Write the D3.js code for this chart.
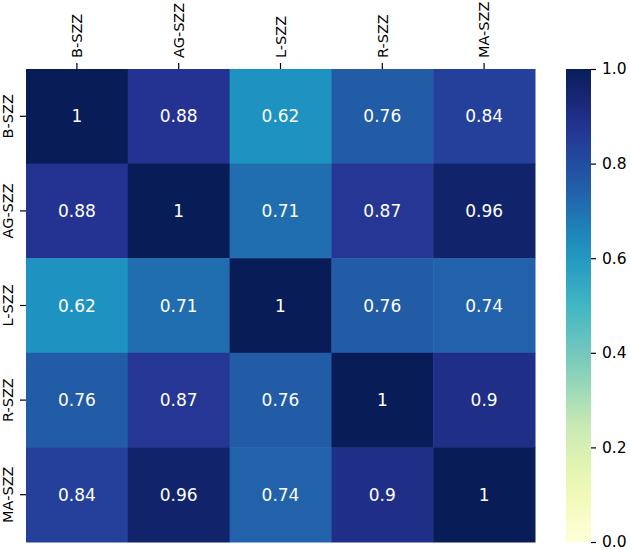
<!DOCTYPE html>
<html lang="en">
<head>
<meta charset="UTF-8">
<title>Heatmap</title>
<script src="https://d3js.org/d3.v7.min.js"></script>
<style>
  body { margin: 0; background: #fff; }
  text { font-family: "DejaVu Sans", sans-serif; }
</style>
</head>
<body>
<script>
var labels = ['B-SZZ', 'AG-SZZ', 'L-SZZ', 'R-SZZ', 'MA-SZZ'];
var matrix = [
  [1, 0.88, 0.62, 0.76, 0.84],
  [0.88, 1, 0.71, 0.87, 0.96],
  [0.62, 0.71, 1, 0.76, 0.74],
  [0.76, 0.87, 0.76, 1, 0.9],
  [0.84, 0.96, 0.74, 0.9, 1]
];
var cbarTicks = [0, 0.2, 0.4, 0.6, 0.8, 1.0];

var width = 630, height = 550;
var mLeft = 26, mTop = 69, mRight = 535, mBottom = 542;
var cbLeft = 566, cbRight = 591;

var svg = d3.select('body').append('svg')
  .attr('width', width)
  .attr('height', height);

var pal = d3.schemeYlGnBu[9];
var color = d3.scaleLinear()
  .domain(d3.range(9).map(function (i) { return i / 8; }))
  .range(pal)
  .interpolate(d3.interpolateRgb);

var x = d3.scaleBand().domain(labels).range([mLeft, mRight]);
var y = d3.scaleBand().domain(labels).range([mTop, mBottom]);

var cells = [];
matrix.forEach(function (row, i) {
  row.forEach(function (v, j) {
    cells.push({ r: labels[i], c: labels[j], v: v });
  });
});

svg.selectAll('rect.cell')
  .data(cells)
  .enter()
  .append('rect')
  .attr('class', 'cell')
  .attr('x', function (d) { return x(d.c); })
  .attr('y', function (d) { return y(d.r); })
  .attr('width', x.bandwidth() + 0.5)
  .attr('height', y.bandwidth() + 0.5)
  .attr('fill', function (d) { return color(d.v); });

svg.selectAll('text.annot')
  .data(cells)
  .enter()
  .append('text')
  .attr('class', 'annot')
  .attr('x', function (d) { return x(d.c) + x.bandwidth() / 2; })
  .attr('y', function (d) { return y(d.r) + y.bandwidth() / 2; })
  .attr('text-anchor', 'middle')
  .attr('dy', '0.36em')
  .attr('fill', '#fff')
  .style('font-size', '17px')
  .text(function (d) { return d3.format('')(d.v); });

// top axis
var xaxis = svg.append('g')
  .attr('transform', 'translate(0,' + mTop + ')')
  .call(d3.axisTop(x).tickSize(6).tickPadding(4));
xaxis.select('.domain').remove();
xaxis.selectAll('line').attr('stroke-width', 1.2);
xaxis.selectAll('text')
  .style('font-size', '14.5px')
  .attr('fill', '#000')
  .attr('transform', 'rotate(-90)')
  .attr('text-anchor', 'start')
  .attr('x', 11)
  .attr('y', 0)
  .attr('dy', '0.36em');

// left axis
var yaxis = svg.append('g')
  .attr('transform', 'translate(' + mLeft + ',0)')
  .call(d3.axisLeft(y).tickSize(6).tickPadding(4));
yaxis.select('.domain').remove();
yaxis.selectAll('line').attr('stroke-width', 1.2);
yaxis.selectAll('text')
  .style('font-size', '14.5px')
  .attr('fill', '#000')
  .attr('transform', 'rotate(-90)')
  .attr('text-anchor', 'middle')
  .attr('x', 0)
  .attr('y', -13)
  .attr('dy', '0em');

// colorbar
var defs = svg.append('defs');
var grad = defs.append('linearGradient')
  .attr('id', 'cbar')
  .attr('x1', 0).attr('y1', 1).attr('x2', 0).attr('y2', 0);
d3.range(0, 1.0001, 0.05).forEach(function (t) {
  grad.append('stop')
    .attr('offset', t)
    .attr('stop-color', color(t));
});

var cy = d3.scaleLinear().domain([0, 1]).range([mBottom, mTop]);

svg.append('rect')
  .attr('x', cbLeft)
  .attr('y', mTop)
  .attr('width', cbRight - cbLeft)
  .attr('height', mBottom - mTop)
  .attr('fill', 'url(#cbar)');

var caxis = svg.append('g')
  .attr('transform', 'translate(' + cbRight + ',0)')
  .call(d3.axisRight(cy).tickValues(cbarTicks).tickFormat(d3.format('.1f')).tickSize(5).tickPadding(6));
caxis.select('.domain').remove();
caxis.selectAll('line').attr('stroke-width', 1.2);
caxis.selectAll('text')
  .style('font-size', '15.5px')
  .attr('fill', '#000');
</script>
</body>
</html>
